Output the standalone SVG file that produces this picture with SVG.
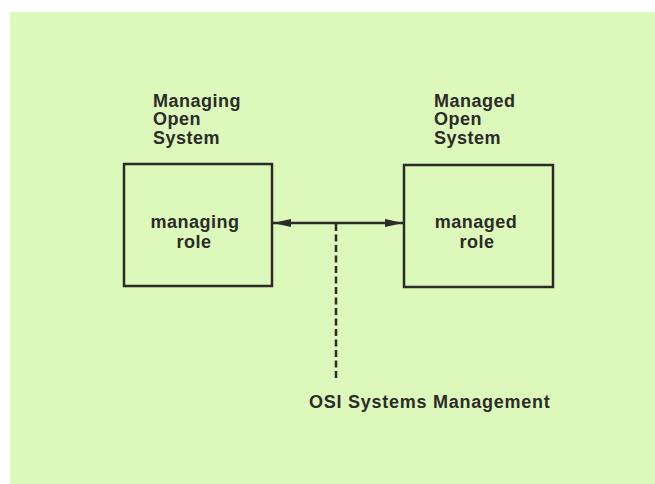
<svg xmlns="http://www.w3.org/2000/svg" width="655" height="484" viewBox="0 0 655 484">
  <style>
    .lbl { font-family: "Liberation Sans", Arial, sans-serif; font-weight: bold; font-size: 18px; fill: #2b2b28; letter-spacing: 0.5px; }
    .wide { letter-spacing: 0.75px; }
    .box { fill: none; stroke: #2b2b28; stroke-width: 2.5; }
    .link { stroke: #2b2b28; stroke-width: 2.5; fill: none; }
    .dash { stroke: #2b2b28; stroke-width: 2.5; stroke-dasharray: 7 3.5; fill: none; }
  </style>
  <defs>
    <marker id="head" viewBox="0 0 18 8" refX="18" refY="4" markerWidth="18" markerHeight="8" markerUnits="userSpaceOnUse" orient="auto-start-reverse">
      <path d="M0,0 L18,4 L0,8 Z" fill="#2b2b28"/>
    </marker>
  </defs>

  <!-- paper -->
  <rect x="0" y="0" width="655" height="484" fill="#ffffff"/>
  <rect x="10" y="12" width="645" height="472" fill="#ddf8bb"/>

  <!-- connectors -->
  <g id="connectors">
    <line class="link" x1="273" y1="223" x2="403" y2="223" marker-start="url(#head)" marker-end="url(#head)"/>
    <line class="dash" x1="336" y1="224" x2="336" y2="379"/>
  </g>

  <!-- managing side -->
  <g id="managing-system">
    <text class="lbl" x="153" y="106.5">Managing</text>
    <text class="lbl" x="153" y="125">Open</text>
    <text class="lbl" x="153" y="143.5">System</text>
  </g>
  <g id="managing-role">
    <rect class="box" x="124" y="164" width="148" height="122"/>
    <text class="lbl" x="195" y="227.5" text-anchor="middle">managing</text>
    <text class="lbl" x="194" y="247.5" text-anchor="middle">role</text>
  </g>

  <!-- managed side -->
  <g id="managed-system">
    <text class="lbl" x="434" y="106.5">Managed</text>
    <text class="lbl" x="434" y="125">Open</text>
    <text class="lbl" x="434" y="143.5">System</text>
  </g>
  <g id="managed-role">
    <rect class="box" x="404" y="165" width="149" height="122"/>
    <text class="lbl" x="476" y="227.5" text-anchor="middle">managed</text>
    <text class="lbl" x="477" y="247.5" text-anchor="middle">role</text>
  </g>

  <!-- management label -->
  <g id="osi-management">
    <text class="lbl wide" x="309" y="408">OSI Systems Management</text>
  </g>
</svg>
